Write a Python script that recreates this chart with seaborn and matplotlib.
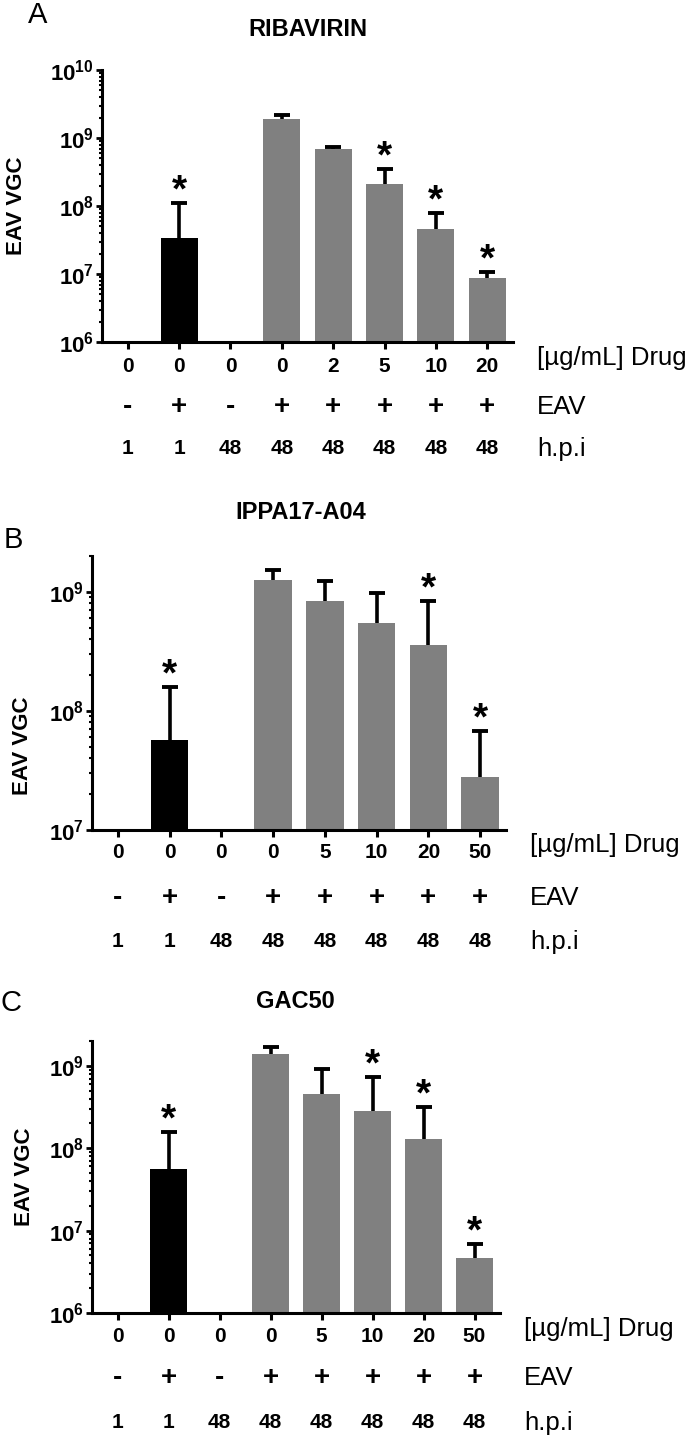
import numpy as np
import pandas as pd
import seaborn as sns
import matplotlib
matplotlib.use('Agg')
import matplotlib.pyplot as plt
from matplotlib.ticker import LogLocator, NullFormatter

# Shared row labels under each panel
eav = ['-', '+', '-', '+', '+', '+', '+', '+']
hpi = ['1', '1', '48', '48', '48', '48', '48', '48']
bar_colors = ['white', 'black', 'white', '#808080', '#808080', '#808080', '#808080', '#808080']

# Panel A - RIBAVIRIN
a_drug = ['0', '0', '0', '0', '2', '5', '10', '20']
a_mean = [np.nan, 3.4e7, np.nan, 1.9e9, 6.9e8, 2.1e8, 4.6e7, 8.7e6]
a_sd = [np.nan, 7.6e7, np.nan, 3.0e8, 5.0e7, 1.4e8, 3.3e7, 2.0e6]
a_star = [0, 1, 0, 0, 0, 1, 1, 1]

# Panel B - IPPA17-A04
b_drug = ['0', '0', '0', '0', '5', '10', '20', '50']
b_mean = [np.nan, 5.7e7, np.nan, 1.26e9, 8.4e8, 5.5e8, 3.6e8, 2.8e7]
b_sd = [np.nan, 1.03e8, np.nan, 2.7e8, 4.0e8, 4.3e8, 4.8e8, 4.0e7]
b_star = [0, 1, 0, 0, 0, 0, 1, 1]

# Panel C - GAC50
c_drug = ['0', '0', '0', '0', '5', '10', '20', '50']
c_mean = [np.nan, 5.6e7, np.nan, 1.4e9, 4.6e8, 2.8e8, 1.3e8, 4.7e6]
c_sd = [np.nan, 1.0e8, np.nan, 3.0e8, 4.6e8, 4.6e8, 1.9e8, 2.2e6]
c_star = [0, 1, 0, 0, 0, 1, 1, 1]

sns.set_style('ticks')
plt.rcParams['font.family'] = ['Liberation Sans', 'DejaVu Sans']
plt.rcParams['font.weight'] = 'bold'
plt.rcParams['axes.linewidth'] = 2.2
for key in ['text.color', 'axes.labelcolor', 'xtick.color', 'ytick.color', 'axes.edgecolor']:
    plt.rcParams[key] = 'black'

fig = plt.figure(figsize=(6.85, 14.4), dpi=100)

panels = [
    # letter, title, drug, mean, sd, star, ylim, axes rect, letter xy, title xy, ylabel xy, row offsets
    ('A', 'RIBAVIRIN', a_drug, a_mean, a_sd, a_star, (1e6, 1e10),
     [102/685, 1-342/1440, 411/685, 272/1440], (38, 23), (308, 30), (17, 206), (24, 65, 107)),
    ('B', 'IPPA17-A04', b_drug, b_mean, b_sd, b_star, (1e7, 2e9),
     [92/685, 1-830/1440, 414/685, 274/1440], (13, 548), (301, 513), (23, 746), (23, 68, 112)),
    ('C', 'GAC50', c_drug, c_mean, c_sd, c_star, (1e6, 2e9),
     [92/685, 1-1313/1440, 408/685, 272/1440], (11, 1011), (295, 1002), (24, 1177), (24, 65, 110)),
]

W, H = 685.0, 1440.0

for letter, title, drug, mean, sd, star, ylim, rect, lxy, txy, yxy, rows in panels:
    ax = fig.add_axes(rect)
    df = pd.DataFrame({'pos': range(8), 'value': mean})
    sns.barplot(data=df, x='pos', y='value', hue='pos', palette=bar_colors,
                order=list(range(8)), width=0.72, legend=False, ax=ax,
                errorbar=None, saturation=1, linewidth=0)
    ax.set_yscale('log')
    ax.set_ylim(*ylim)
    ax.set_xlim(-0.5, 7.5)

    # upper-only error bars (hide the cap at the bar top)
    mean_arr = np.array(mean)
    sd_arr = np.array(sd)
    eb = ax.errorbar(np.arange(8), mean_arr, yerr=[np.zeros(8), sd_arr], fmt='none',
                     ecolor='black', elinewidth=2.6, capsize=6, capthick=2.8, zorder=3)
    eb[1][0].set_visible(False)

    for i in range(8):
        if star[i]:
            ax.annotate('*', xy=(i, mean_arr[i] + sd_arr[i]), xytext=(0, 1),
                        textcoords='offset points', ha='center', va='baseline',
                        fontsize=28, fontweight='bold')

    sns.despine(ax=ax)
    ax.yaxis.set_major_locator(LogLocator(base=10))
    ax.yaxis.set_minor_locator(LogLocator(base=10, subs=np.arange(2, 10)))
    ax.yaxis.set_minor_formatter(NullFormatter())
    ax.tick_params(axis='y', which='major', length=4, width=2, labelsize=16, pad=2)
    ax.tick_params(axis='y', which='minor', length=2.5, width=1.5)
    ax.tick_params(axis='x', which='major', length=5, width=2.2, labelbottom=False)
    ax.set_xlabel('')
    ax.set_ylabel('')

    # three rows of labels under the bars
    for i in range(8):
        for txt, off, fs in zip([drug[i], eav[i], hpi[i]], rows, [15, 20, 15]):
            ax.annotate(txt, xy=(i, 0), xycoords=('data', 'axes fraction'),
                        xytext=(0, -off), textcoords='offset pixels',
                        ha='center', va='center', fontsize=fs, fontweight='bold')
    row_names = ['[µg/mL] Drug', 'EAV', 'h.p.i']
    row_offs = [rows[0] - 8, rows[1], rows[2]]
    for txt, off in zip(row_names, row_offs):
        ax.annotate(txt, xy=(1, 0), xycoords='axes fraction',
                    xytext=(24, -off), textcoords='offset pixels',
                    ha='left', va='center', fontsize=18.5, fontweight='normal')

    fig.text(lxy[0] / W, 1 - lxy[1] / H, letter, ha='center', va='baseline',
             fontsize=21, fontweight='normal')
    fig.text(txy[0] / W, 1 - txy[1] / H, title, ha='center', va='center',
             fontsize=17, fontweight='bold')
    fig.text(yxy[0] / W, 1 - yxy[1] / H, 'EAV VGC', ha='center', va='center',
             rotation=90, fontsize=16, fontweight='bold')

fig.savefig('out.png', dpi=100)
